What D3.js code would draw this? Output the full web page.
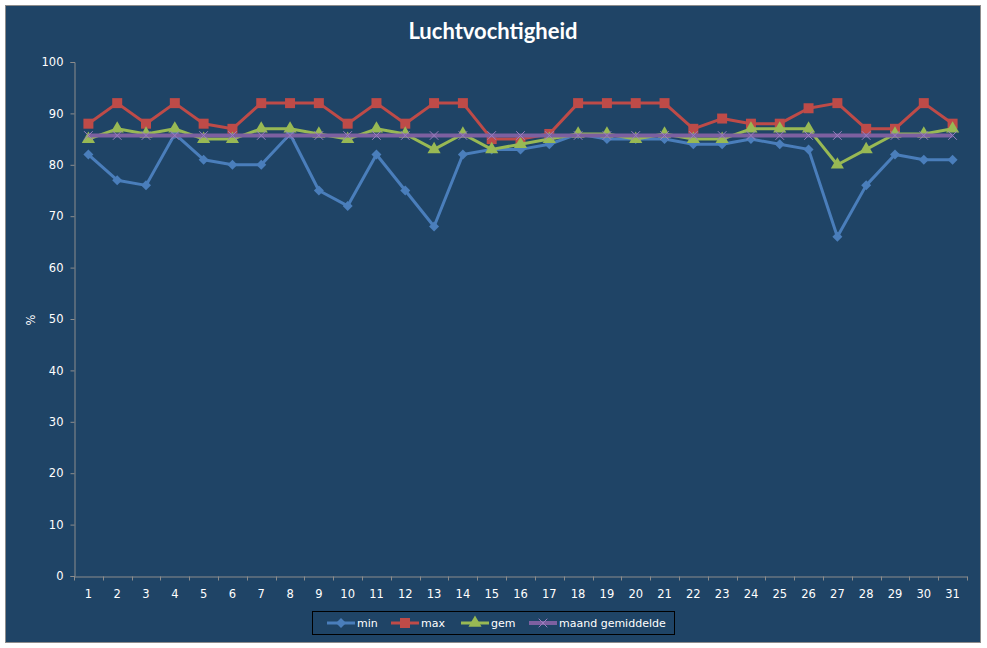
<!DOCTYPE html>
<html>
<head>
<meta charset="utf-8">
<script src="https://cdn.jsdelivr.net/npm/d3@7"></script>
<style>
  body { margin: 0; background: #fff; }
  svg { display: block; }
</style>
</head>
<body>
<svg width="987" height="648"></svg>
<script>
// dagen van de maand
var days = d3.range(1, 32).map(String)
var minVals = [82, 77, 76, 86, 81, 80, 80, 86, 75, 72, 82, 75, 68, 82, 83, 83, 84, 86, 85, 85, 85, 84, 84, 85, 84, 83, 66, 76, 82, 81, 81]
var maxVals = [88, 92, 88, 92, 88, 87, 92, 92, 92, 88, 92, 88, 92, 92, 85, 85, 86, 92, 92, 92, 92, 87, 89, 88, 88, 91, 92, 87, 87, 92, 88]
var gemVals = [85, 87, 86, 87, 85, 85, 87, 87, 86, 85, 87, 86, 83, 86, 83, 84, 85, 86, 86, 85, 86, 85, 85, 87, 87, 87, 80, 83, 86, 86, 87]
var maandVals = days.map(function () { return 85.7 })
var yTicks = [0, 10, 20, 30, 40, 50, 60, 70, 80, 90, 100]

// ruit = vierkant 45 graden gedraaid
var diamond = {
  draw: function (ctx, size) {
    var r = Math.sqrt(size / 2)
    ctx.moveTo(0, -r); ctx.lineTo(r, 0); ctx.lineTo(0, r); ctx.lineTo(-r, 0); ctx.closePath()
  }
}

var series = [
  { name: 'min', values: minVals, color: '#4a7ebb', symbol: diamond, size: 50 },
  { name: 'max', values: maxVals, color: '#be4b48', symbol: d3.symbolSquare, size: 100 },
  { name: 'gem', values: gemVals, color: '#98b954', symbol: d3.symbolTriangle, size: 75 },
  { name: 'maand gemiddelde', values: maandVals, color: '#7d60a0', symbol: d3.symbolX, size: 50 }
]

var svg = d3.select('svg')
var font = '"DejaVu Sans", Verdana, sans-serif'

// kader
svg.append('rect')
  .attr('x', 5.5).attr('y', 5.5)
  .attr('width', 975).attr('height', 637)
  .attr('fill', '#1f4466')
  .attr('stroke', '#8c8c8c')

svg.append('text')
  .attr('x', 493).attr('y', 39)
  .attr('text-anchor', 'middle')
  .attr('fill', '#fff')
  .attr('font-family', 'Lato, "Open Sans", sans-serif')
  .attr('font-weight', 'bold')
  .attr('font-size', 22)
  .text('Luchtvochtigheid')

var x = d3.scaleBand().domain(days).range([74, 967])
var y = d3.scaleLinear().domain([0, 100]).range([576, 62])

var yAxis = svg.append('g')
  .attr('transform', 'translate(74.5,0)')
  .call(d3.axisLeft(y).tickValues(yTicks).tickSize(4).tickPadding(7))
var xAxis = svg.append('g')
  .attr('transform', 'translate(0,576.5)')
  .call(d3.axisBottom(x).tickSize(0).tickPadding(13))

// tick marks op de grenzen van de categorieen
xAxis.selectAll('.edge')
  .data(days.concat(['end']))
  .enter().append('line')
  .attr('x1', function (d, i) { return Math.round(74 + i * x.step()) + 0.5 })
  .attr('x2', function (d, i) { return Math.round(74 + i * x.step()) + 0.5 })
  .attr('y1', 0).attr('y2', 4)
  .attr('stroke', '#8c8c8c')

;[yAxis, xAxis].forEach(function (ax) {
  ax.select('.domain').attr('stroke', '#8c8c8c')
  ax.selectAll('.tick line').attr('stroke', '#8c8c8c')
  ax.selectAll('text').attr('fill', '#fff').attr('font-family', font).attr('font-size', 11.5)
})

svg.append('text')
  .attr('transform', 'translate(35,320) rotate(-90)')
  .attr('text-anchor', 'middle')
  .attr('fill', '#fff')
  .attr('font-family', font)
  .attr('font-size', 11.5)
  .text('%')

var line = d3.line()
  .x(function (d, i) { return x(days[i]) + x.bandwidth() / 2 })
  .y(function (d) { return y(d) })

series.forEach(function (s) {
  var g = svg.append('g')
  g.append('path')
    .attr('d', line(s.values))
    .attr('fill', 'none')
    .attr('stroke', s.color)
    .attr('stroke-width', s.name === 'maand gemiddelde' ? 4 : 3)
    .attr('stroke-linejoin', 'round')
  g.selectAll('.pt')
    .data(s.values)
    .enter().append('path')
    .attr('transform', function (d, i) {
      return 'translate(' + (x(days[i]) + x.bandwidth() / 2) + ',' + y(d) + ')'
    })
    .attr('d', d3.symbol().type(s.symbol).size(s.size))
    .attr('fill', s.symbol === d3.symbolX ? 'none' : s.color)
    .attr('stroke', s.symbol === d3.symbolX ? '#9a7fc0' : 'none')
    .attr('stroke-width', 1)
})

// legenda
var legend = svg.append('g').attr('transform', 'translate(312,611)')
legend.append('rect')
  .attr('x', 0.5).attr('y', 0.5)
  .attr('width', 362).attr('height', 23)
  .attr('fill', 'none')
  .attr('stroke', '#000')

var legX = [15, 79, 149, 217]
series.forEach(function (s, i) {
  var item = legend.append('g').attr('transform', 'translate(' + legX[i] + ',12)')
  item.append('line')
    .attr('x1', 0).attr('x2', 28)
    .attr('stroke', s.color)
    .attr('stroke-width', s.name === 'maand gemiddelde' ? 4 : 3)
  item.append('path')
    .attr('transform', 'translate(14,0)')
    .attr('d', d3.symbol().type(s.symbol).size(s.size))
    .attr('fill', s.symbol === d3.symbolX ? 'none' : s.color)
    .attr('stroke', s.symbol === d3.symbolX ? '#9a7fc0' : 'none')
  item.append('text')
    .attr('x', 30).attr('y', 4)
    .attr('fill', '#fff')
    .attr('font-family', font)
    .attr('font-size', 11)
    .text(s.name)
})
</script>
</body>
</html>
